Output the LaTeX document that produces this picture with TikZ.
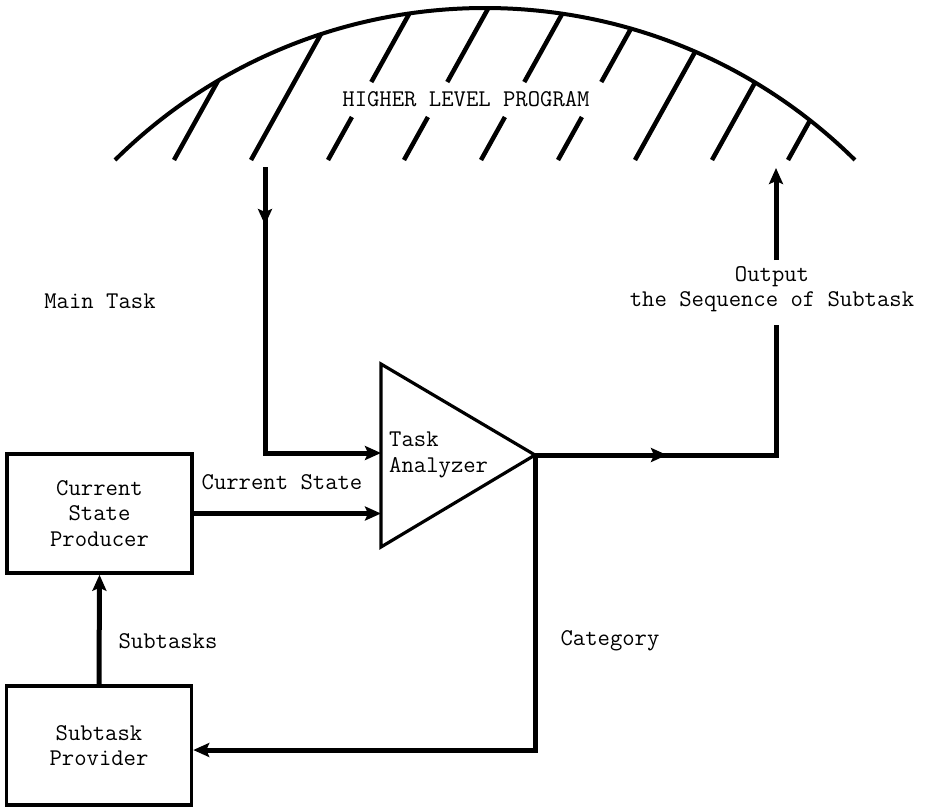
\documentclass[tikz,border=0pt]{standalone}
\usetikzlibrary{arrows.meta,decorations.markings}
\newcommand\twfont{\fontsize{24}{25.5}\selectfont\ttfamily}
\begin{document}
\begin{tikzpicture}[x=1pt,y=-1pt,
  conn/.style={line width=5pt},
  tip/.style={-{Stealth[length=16pt,width=14pt,inset=3pt]}},
  midarrow/.style={postaction={decorate},decoration={markings,
      mark=at position #1 with {\arrow{Stealth[length=16pt,width=14pt,inset=3pt]}}}},
  box/.style={draw,line width=3.5pt,minimum width=185pt,minimum height=119pt,
      inner sep=0pt,align=center,font=\twfont},
  lbl/.style={font=\twfont,inner sep=0pt},
  hatch/.style={line width=4.5pt},
  rim/.style={line width=4pt},
  tri/.style={line width=3.2pt,line join=miter}]
\useasboundingbox (0,0) rectangle (928,807);

% higher level program
\draw[rim] (115,160) arc[start angle=225.33,end angle=314.67,radius=526.3];
\begin{scope}
  \clip (485.2,534.1) circle[radius=526.3];
  \foreach \xb in {174,251,635,712,788}
    \draw[hatch] (\xb,160) -- ++(120,-216);
  \foreach \xb in {328,404,481,558}{
    \draw[hatch] (\xb,160) -- ++(23.9,-43);
    \draw[hatch] (\xb+43.3,82) -- ++(60,-108);
  }
\end{scope}
\node[lbl] (hlp) at (466,99) {HIGHER LEVEL PROGRAM};

% task analyzer
\coordinate (T1) at (381,364);
\coordinate (T2) at (381,547);
\coordinate (TA) at (535,455);
\draw[tri] (T1) -- (TA) -- (T2) -- cycle;
\node[lbl,align=left,anchor=west] (tan) at (389,455) {Task\\Analyzer};

% boxes
\node[box] (csp) at (99.5,513.5) {Current\\State\\Producer};
\node[box] (spv) at (99,745.5) {Subtask\\Provider};

% labels
\node[lbl] (mtl) at (100,301) {Main Task};
\node[lbl] (csl) at (282,482) {Current State};
\node[lbl] (stl) at (168,641) {Subtasks};
\node[lbl] (cal) at (610,641) {Category};
\node[lbl,align=center] (outl) at (772,289) {Output\\the Sequence of Subtask};

% connectors
\coordinate (mt0) at (265,167);
\coordinate (mtin) at (381,453);
\draw[conn,tip,midarrow=58pt] (mt0) |- (mtin);

\draw[conn,tip] (csp.east) -- (csp.east -| T1);

\coordinate (o1) at (776,455);
\coordinate (o2) at (776,325);
\coordinate (o3) at (776,260);
\coordinate (o4) at (776,168);
\draw[conn,midarrow=132pt] (TA) -- (o1) -- (o2);
\draw[conn,tip] (o3) -- (o4);

\coordinate (c1) at (536,750);
\draw[conn,tip] (TA) -- (TA |- c1) -- (spv.east |- c1);

\draw[conn,tip] (spv.north) -- (csp.south);
\end{tikzpicture}
\end{document}
